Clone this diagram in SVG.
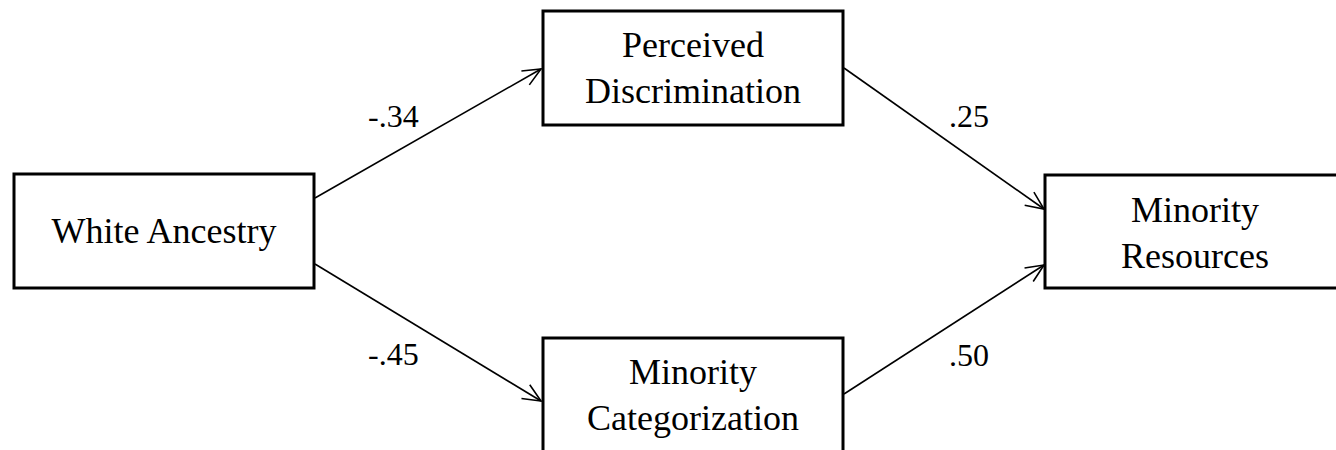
<svg xmlns="http://www.w3.org/2000/svg" width="1336" height="450" viewBox="0 0 1336 450">
<style>
.box{fill:#fff;stroke:#000;stroke-width:3}
.t{font-family:"Liberation Serif","Times New Roman",serif;font-size:36px;fill:#000;text-anchor:middle}
.lbl{font-family:"Liberation Serif","Times New Roman",serif;font-size:32px;fill:#000}
.edge{stroke:#000;stroke-width:1.6;fill:none;marker-end:url(#arr)}
</style>
<defs>
<marker id="arr" markerUnits="userSpaceOnUse" viewBox="0 0 20 20" refX="19" refY="10" markerWidth="20" markerHeight="20" orient="auto">
<path d="M1,2 L19,10 L1,18" fill="none" stroke="#000" stroke-width="1.6"/>
</marker>
</defs>
<rect width="1336" height="450" fill="#fff"/>
<g id="connectors">
<line class="edge" x1="315" y1="198" x2="541" y2="69"/>
<line class="edge" x1="315" y1="264" x2="541" y2="401"/>
<line class="edge" x1="844" y1="68" x2="1044" y2="209"/>
<line class="edge" x1="844" y1="394" x2="1044" y2="265"/>
<text class="lbl" x="368" y="127">-.34</text>
<text class="lbl" x="368" y="365">-.45</text>
<text class="lbl" x="949" y="127">.25</text>
<text class="lbl" x="949" y="366">.50</text>
</g>
<g id="white-ancestry">
<rect class="box" x="14" y="174" width="300" height="114"/>
<text class="t" x="164" y="243">White Ancestry</text>
</g>
<g id="perceived-discrimination">
<rect class="box" x="543" y="11" width="300" height="114"/>
<text class="t" x="693" y="57">Perceived</text>
<text class="t" x="693" y="103">Discrimination</text>
</g>
<g id="minority-categorization">
<rect class="box" x="543" y="338" width="300" height="114"/>
<text class="t" x="693" y="384">Minority</text>
<text class="t" x="693" y="430">Categorization</text>
</g>
<g id="minority-resources">
<rect class="box" x="1045" y="175" width="300" height="113"/>
<text class="t" x="1195" y="222">Minority</text>
<text class="t" x="1195" y="268">Resources</text>
</g>
</svg>
